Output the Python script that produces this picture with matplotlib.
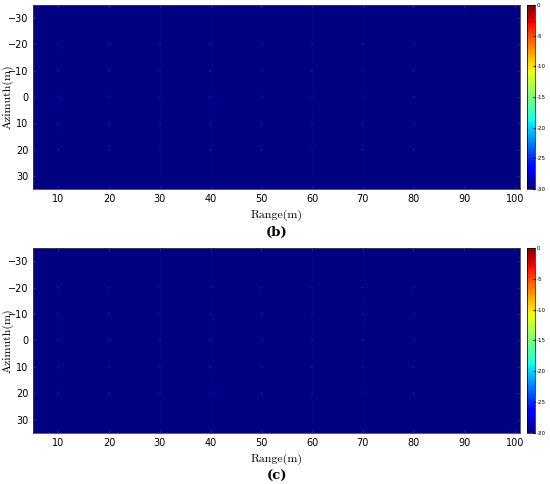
import matplotlib
matplotlib.use("Agg")
import matplotlib.pyplot as plt
import numpy as np

# point target grid (m) and peak levels (dB) as seen after display
target_range = [10, 20, 30, 40, 50, 60, 70, 80]
target_azimuth = [-20, -10, 0, 10, 20]
level_b = -25.5
level_c = -25.5
x_ticks = [10, 20, 30, 40, 50, 60, 70, 80, 90, 100]
y_ticks = [-30, -20, -10, 0, 10, 20, 30]
cbar_ticks = [0, -5, -10, -15, -20, -25, -30]
captions = ["(b)", "(c)"]

cmap = plt.get_cmap("jet")
fig = plt.figure(figsize=(5.5, 4.84), dpi=100)

panels = [
    ([0.060, 0.6095, 0.8855, 0.3802], level_b),
    ([0.060, 0.1054, 0.8855, 0.3822], level_c),
]

for (pos, level), cap in zip(panels, captions):
    ax = fig.add_axes(pos)
    ax.set_facecolor(cmap(0.0))
    rr, aa = np.meshgrid(target_range, target_azimuth)
    vals = np.full(rr.shape, level)
    ax.vlines(target_range, -35, 35, color="#04048a", lw=0.6, zorder=1)
    sc = ax.scatter(rr.ravel(), aa.ravel(), c=vals.ravel(), cmap="jet",
                    vmin=-30, vmax=0, s=1.2, marker="o", linewidths=0, zorder=2)
    ax.set_xlim(5, 101)
    ax.set_ylim(35, -35)
    ax.set_xticks(x_ticks)
    ax.set_yticks(y_ticks)
    ax.tick_params(direction="in", length=2, labelsize=7, top=True, right=True,
                   color="#20209a", pad=3.5)
    for sp in ax.spines.values():
        sp.set_color("#404040")
        sp.set_linewidth(0.6)
    ax.set_xlabel("Range(m)", family="cmr10", fontsize=8.6)
    ax.xaxis.set_label_coords(0.5, -0.11)
    ax.set_ylabel("Azimuth(m)", family="cmr10", fontsize=8.6)
    ax.yaxis.set_label_coords(-0.040, 0.5)
    ax.text(0.5, -0.235, cap, transform=ax.transAxes, ha="center", va="center",
            fontsize=9.5, fontweight="bold", family="DejaVu Serif")

    cax = fig.add_axes([0.958, pos[1], 0.0145, pos[3]])
    cb = fig.colorbar(sc, cax=cax, ticks=cbar_ticks)
    cb.ax.tick_params(labelsize=4, length=1.5, direction="in", pad=1.5)
    cb.outline.set_linewidth(0.5)
    cb.ax.set_yticklabels(["0", "-5", "-10", "-15", "-20", "-25", "-30"])

fig.savefig("out.png", dpi=100)
